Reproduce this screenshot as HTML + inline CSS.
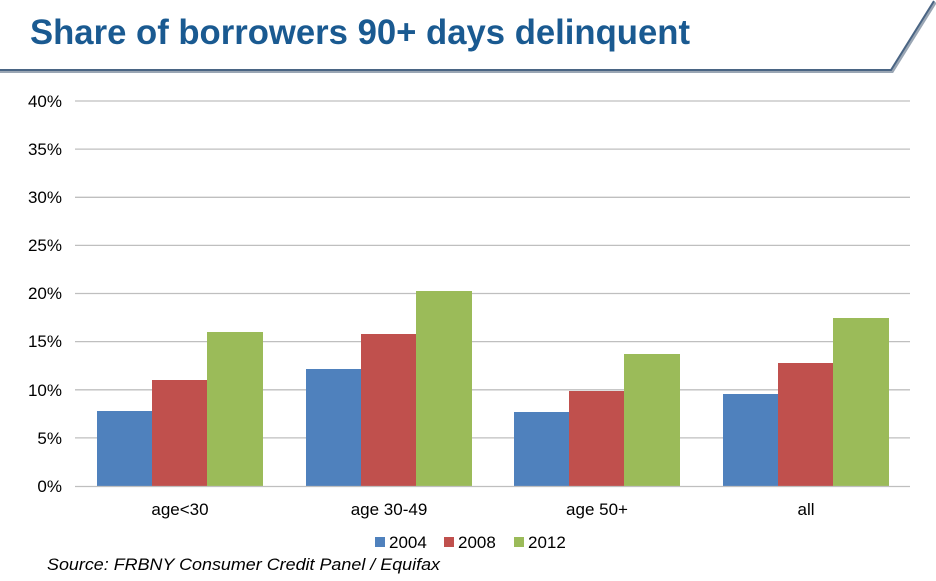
<!DOCTYPE html>
<html><head><meta charset="utf-8"><style>
body{margin:0;background:#fff;}
svg{display:block;font-family:"Liberation Sans",Arial,sans-serif;}
</style></head><body>
<svg width="936" height="581" viewBox="0 0 936 581">
<text x="30" y="44" font-size="35" font-weight="bold" fill="#1a5a91" textLength="660" lengthAdjust="spacingAndGlyphs">Share of borrowers 90+ days delinquent</text>
<polyline points="0,71 892,71 935,2" fill="none" stroke="#9aa6b4" stroke-width="4"/>
<polyline points="0,70 891,70 934,1" fill="none" stroke="#4a6584" stroke-width="2"/>
<g stroke="#bfbfbf" stroke-width="1.3">
<line x1="75" x2="910" y1="101" y2="101"/><line x1="75" x2="910" y1="149.1" y2="149.1"/>
<line x1="75" x2="910" y1="197.3" y2="197.3"/><line x1="75" x2="910" y1="245.4" y2="245.4"/>
<line x1="75" x2="910" y1="293.5" y2="293.5"/><line x1="75" x2="910" y1="341.6" y2="341.6"/>
<line x1="75" x2="910" y1="389.8" y2="389.8"/><line x1="75" x2="910" y1="437.9" y2="437.9"/>
</g>
<g font-size="17" fill="#000" text-anchor="end">
<text x="62" y="107">40%</text><text x="62" y="155">35%</text><text x="62" y="203">30%</text>
<text x="62" y="251">25%</text><text x="62" y="299">20%</text><text x="62" y="347">15%</text>
<text x="62" y="396">10%</text><text x="62" y="444">5%</text><text x="62" y="492">0%</text>
</g>
<g>
<rect x="97" y="411" width="55" height="75" fill="#4f81bd"/><rect x="152" y="380" width="55" height="106" fill="#c0504d"/><rect x="207" y="332" width="56" height="154" fill="#9bbb59"/>
<rect x="306" y="369" width="55" height="117" fill="#4f81bd"/><rect x="361" y="334" width="55" height="152" fill="#c0504d"/><rect x="416" y="291" width="56" height="195" fill="#9bbb59"/>
<rect x="514" y="412" width="55" height="74" fill="#4f81bd"/><rect x="569" y="391" width="55" height="95" fill="#c0504d"/><rect x="624" y="354" width="56" height="132" fill="#9bbb59"/>
<rect x="723" y="394" width="55" height="92" fill="#4f81bd"/><rect x="778" y="363" width="55" height="123" fill="#c0504d"/><rect x="833" y="318" width="56" height="168" fill="#9bbb59"/>
</g>
<line x1="75" x2="910" y1="486.5" y2="486.5" stroke="#bfbfbf" stroke-width="1.3"/>
<g font-size="17" fill="#000" text-anchor="middle">
<text x="180" y="515">age&lt;30</text><text x="389" y="515">age 30-49</text>
<text x="597" y="515">age 50+</text><text x="806" y="515">all</text>
</g>
<g font-size="17" fill="#000">
<rect x="375" y="537" width="10" height="10" fill="#4f81bd"/><text x="389" y="548">2004</text>
<rect x="444" y="537" width="10" height="10" fill="#c0504d"/><text x="458" y="548">2008</text>
<rect x="514" y="537" width="10" height="10" fill="#9bbb59"/><text x="528" y="548">2012</text>
</g>
<text x="47" y="570" font-size="17" font-style="italic" fill="#000" textLength="393" lengthAdjust="spacingAndGlyphs">Source: FRBNY Consumer Credit Panel / Equifax</text>
</svg>
</body></html>
